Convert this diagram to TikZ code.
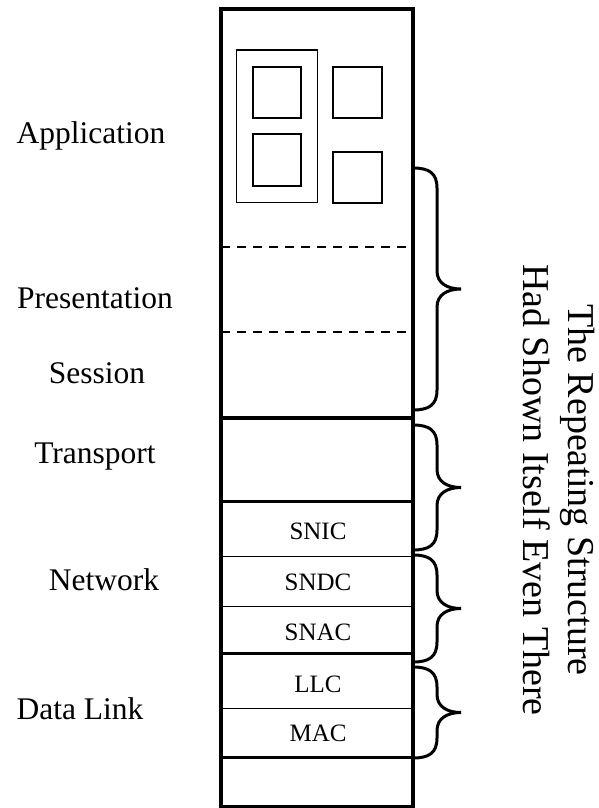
\documentclass[tikz,border=0pt]{standalone}
\usepackage{fontspec}
\setmainfont{Liberation Serif}

\tikzset{
	layer/.style={anchor=base, inner sep=0pt, font=\fontsize{31.5}{36}\selectfont},
	sublayer/.style={anchor=base, inner sep=0pt, font=\fontsize{25}{30}\selectfont},
	heavy/.style={line width=4pt},
	medium/.style={line width=2.6pt},
	hair/.style={line width=0.9pt},
	softline/.style={line width=2pt, dash pattern=on 9pt off 7pt},
	appbox/.style={line width=2pt},
	bracepath/.style={line width=3pt, line cap=round}
}

\newcommand{\stackbrace}[2]{%
	\pgfmathsetmacro{\bmid}{(#1+#2)/2}
	\draw [bracepath] (413,#1) .. controls (429,#1) and (437,#1+5) .. (437,#1+20) -- (437,\bmid-18) .. controls (437,\bmid-6) and (447,\bmid) .. (461,\bmid) .. controls (447,\bmid) and (437,\bmid+6) .. (437,\bmid+18) -- (437,#2-20) .. controls (437,#2-5) and (429,#2) .. (413,#2);
}

\begin{document}
\begin{tikzpicture}[x=1pt,y=-1pt]
	\useasboundingbox (0,0) rectangle (599,808);
	\draw [heavy] (221,9) rectangle (413,807);
	\draw [softline] (221,246.7) -- (413,246.7);
	\draw [softline] (221,331.7) -- (413,331.7);
	\draw [heavy] (221,418) -- (413,418);
	\draw [medium] (221,501.7) -- (413,501.7);
	\draw [hair] (221,556) -- (413,556);
	\draw [hair] (221,606.7) -- (413,606.7);
	\draw [medium] (221,653.3) -- (413,653.3);
	\draw [hair] (221,708.3) -- (413,708.3);
	\draw [medium] (221,757.3) -- (413,757.3);
	\draw [line width=1.3pt] (236.7,50) rectangle (317.3,202.7);
	\draw [appbox] (253,66.7) rectangle (301.3,117.7);
	\draw [appbox] (253,134.3) rectangle (301.3,185.7);
	\draw [appbox] (333,66.7) rectangle (381.7,117.7);
	\draw [appbox] (333,151.7) rectangle (381.7,202.7);
	\node [layer] (application) at (91,143.3) {Application};
	\node [layer] (presentation) at (95,308.3) {Presentation};
	\node [layer] (session) at (97,383.3) {Session};
	\node [layer] (transport) at (95,463.3) {Transport};
	\node [layer] (network) at (104,590.7) {Network};
	\node [layer] (datalink) at (80,719) {Data Link};
	\node [sublayer] (snic) at (318,539.3) {SNIC};
	\node [sublayer] (sndc) at (318,590) {SNDC};
	\node [sublayer] (snac) at (318,640) {SNAC};
	\node [sublayer] (llc) at (318,692.7) {LLC};
	\node [sublayer] (mac) at (318,741.7) {MAC};
	\stackbrace{168}{410}
	\stackbrace{425}{550}
	\stackbrace{555}{662}
	\stackbrace{667}{758}
	\node [rotate=-90, align=center, inner sep=0pt, font=\fontsize{38}{45}\selectfont] (remark) at (558.5,490) {The Repeating Structure\\Had Shown Itself Even There};
\end{tikzpicture}
\end{document}
